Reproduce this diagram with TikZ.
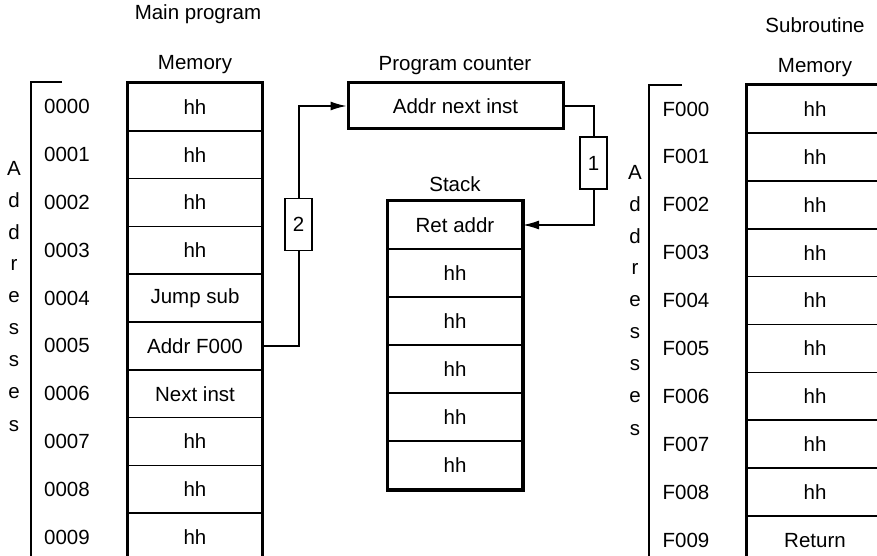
\documentclass[tikz,border=0pt]{standalone}
\usepackage{fontspec}
\setmainfont{Liberation Sans}
\usetikzlibrary{arrows.meta}
\tikzset{
  txt/.style={font=\fontsize{20.5}{24}\selectfont, inner sep=0pt},
  cell/.style={txt, draw, line width=1.6pt, minimum width=134pt, minimum height=47.8pt},
  scell/.style={txt, draw, line width=2pt, minimum width=134pt, minimum height=48pt},
  frame/.style={line width=3pt},
  bracket/.style={line width=1.4pt},
  conn/.style={line width=1.4pt},
  arr/.style={conn, -{Latex[length=16pt,width=9pt]}},
  numbox/.style={txt, draw, fill=white, line width=1.4pt, minimum width=27pt, minimum height=52pt},
  pcbox/.style={txt, draw, line width=3pt, minimum width=215pt, minimum height=46pt},
}
\begin{document}
\begin{tikzpicture}[x=1pt,y=-1pt]
\useasboundingbox (0,0) rectangle (877,556);
\clip (0,0) rectangle (877,556);

% ---- Main program memory ----
\node[txt] (mainlbl) at (198,14) {Main program};
\node[txt] (memlbl) at (195,65) {Memory};
\foreach \t [count=\i from 0] in {hh,hh,hh,hh,Jump sub,Addr F000,Next inst,hh,hh,hh} {
  \node[cell] (m\i) at (195,{83+47.8*(\i+0.5)}) {\t};
  \node[txt] (ma\i) at (67,{83+47.8*(\i+0.5)}) {000\i};
}
\draw[frame] (m9.south west) -- (m0.north west) -- (m0.north east) -- (m9.south east);
\draw[bracket] (62,82) -- (31,82) -- (31,570);
\foreach \c [count=\i from 0] in {A,d,d,r,e,s,s,e,s} {
  \node[txt] (la\i) at (14,{168+32.2*\i}) {\c};
}

% ---- Program counter ----
\node[txt] (pclbl) at (455,66) {Program counter};
\node[pcbox] (pc) at (455.5,106) {Addr next inst};

% ---- Stack ----
\node[txt] (stlbl) at (455,184) {Stack};
\foreach \t [count=\i from 0] in {Ret addr,hh,hh,hh,hh,hh} {
  \node[scell] (s\i) at (455,{201+48*(\i+0.5)}) {\t};
}
\draw[frame] (s0.north west) rectangle (s5.south east);

% ---- Subroutine memory ----
\node[txt] (sublbl) at (815,25) {Subroutine};
\node[txt] (smemlbl) at (815,68) {Memory};
\foreach \t [count=\i from 0] in {hh,hh,hh,hh,hh,hh,hh,hh,hh,Return} {
  \node[cell, minimum width=136pt] (r\i) at (815,{85+47.9*(\i+0.5)}) {\t};
  \node[txt] (ra\i) at (686,{85+47.9*(\i+0.5)}) {F00\i};
}
\draw[frame] (r9.south west) -- (r0.north west) -- (r0.north east);
\draw[bracket] (682,85) -- (649,85) -- (649,570);
\foreach \c [count=\i from 0] in {A,d,d,r,e,s,s,e,s} {
  \node[txt] (lb\i) at (635,{172+32.2*\i}) {\c};
}

% ---- Connectors ----
\coordinate (c2) at (299,106);
\draw[arr] (m5.east) -| (c2) -- (pc.west);
\node[numbox] (n2) at (298.5,224.5) {2};

\coordinate (c1) at (594,106);
\draw[arr] (pc.east) -- (c1) |- (s0.east);
\node[numbox] (n1) at (593.5,163) {1};
\end{tikzpicture}
\end{document}
